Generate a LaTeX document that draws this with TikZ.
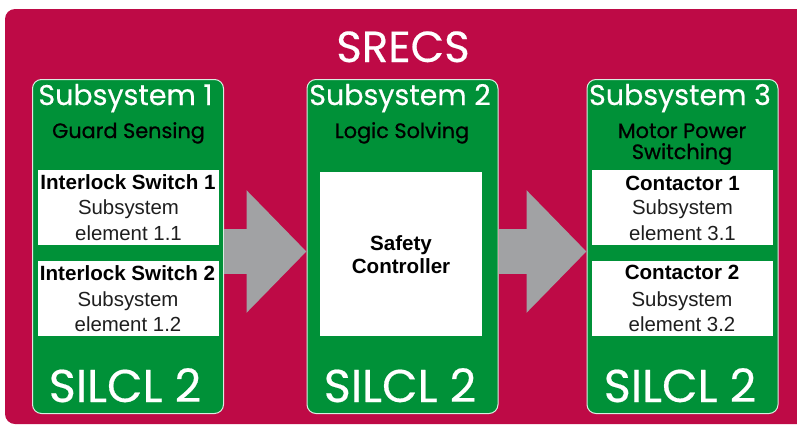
\documentclass[tikz,border=0pt]{standalone}
\usepackage{fontspec}
\setmainfont{Liberation Sans}
\newfontfamily\gotham[FakeBold=0.4]{Poppins}
\newfontfamily\gothamdark[FakeBold=0.8]{Poppins}
\usetikzlibrary{arrows.meta}
\definecolor{srecsred}{HTML}{BE0A46}
\definecolor{subgreen}{HTML}{009138}
\definecolor{arrowgray}{HTML}{A1A2A4}
\definecolor{elemtext}{HTML}{1E1E1E}
\begin{document}
\begin{tikzpicture}[x=1pt,y=-1pt,
  frame/.style={fill=srecsred, rounded corners=10pt},
  panel/.style={draw=white!85!subgreen, line width=1pt, fill=subgreen, rounded corners=9pt,
    minimum width=191pt, minimum height=334pt, anchor=north west, inner sep=0pt},
  elem/.style={fill=white, anchor=north west, inner sep=0pt, minimum width=181pt, minimum height=75pt},
  bigtitle/.style={anchor=base, inner sep=0pt, text=white, font=\gotham\fontsize{43.5}{46}\selectfont},
  subtitle/.style={anchor=base, inner sep=0pt, text=white, font=\gotham\fontsize{28.5}{30}\selectfont},
  func/.style={anchor=base, inner sep=0pt, text=black, font=\gothamdark\fontsize{20.8}{22}\selectfont},
  silcl/.style={anchor=base, inner sep=0pt, text=white, font=\gotham\fontsize{46}{48}\selectfont},
  ename/.style={anchor=base, inner sep=0pt, text=black, font=\bfseries\fontsize{20.6}{22}\selectfont},
  edesc/.style={anchor=base, inner sep=0pt, text=elemtext, font=\fontsize{20.4}{22}\selectfont},
  bigarrow/.style={draw=arrowgray, line width=45pt,
    -{Triangle[length=60pt,width=119pt,fill=arrowgray]}}
]
\useasboundingbox (0,0) rectangle (797,426);
\fill[frame] (5,9) rectangle (812,424);
\node[bigtitle] (srecs) at (403,62) {SRECS};

% panels
\node[panel] (sub1) at (32,79) {};
\node[panel] (sub2) at (306.5,79) {};
\node[panel] (sub3) at (586.5,79) {};

% arrows
\draw[bigarrow] ([yshift=-5pt]sub1.east) -- ([yshift=-5pt]sub2.west);
\draw[bigarrow] ([yshift=-5pt]sub2.east) -- ([yshift=-5pt]sub3.west);

% titles
\node[subtitle] (st1) at (125.5,105) {Subsystem 1};
\node[subtitle] (st2) at (400,105) {Subsystem 2};
\node[subtitle] (st3) at (680,105) {Subsystem 3};
\node[func] (f1) at (128.5,138) {Guard Sensing};
\node[func] (f2) at (402,138) {Logic Solving};
\node[func] (f3a) at (682,138) {Motor Power};
\node[func] (f3b) at (682,159) {Switching};

% element boxes
\node[elem] (e11) at (38,170) {};
\node[elem] (e12) at (37.5,261) {};
\node[elem, minimum width=162pt, minimum height=164pt] (ctl) at (320,172) {};
\node[elem] (e31) at (592,170) {};
\node[elem] (e32) at (591.5,261) {};

% element texts
\node[ename] (n11) at (128,189) {Interlock Switch 1};
\node[edesc] (d11a) at (128.5,214) {Subsystem};
\node[edesc] (d11b) at (128.5,240) {element 1.1};
\node[ename] (n12) at (127.5,280) {Interlock Switch 2};
\node[edesc] (d12a) at (128,306) {Subsystem};
\node[edesc] (d12b) at (128,331) {element 1.2};

\node[ename] (nc1) at (401,250) {Safety};
\node[ename] (nc2) at (401,273) {Controller};

\node[ename] (n31) at (682.5,190) {Contactor 1};
\node[edesc] (d31a) at (682.5,214) {Subsystem};
\node[edesc] (d31b) at (682.5,240) {element 3.1};
\node[ename] (n32) at (682,279) {Contactor 2};
\node[edesc] (d32a) at (682,306) {Subsystem};
\node[edesc] (d32b) at (682,331) {element 3.2};

% SILCL
\node[silcl] (s1) at (125,402) {SILCL 2};
\node[silcl] (s2) at (400,402) {SILCL 2};
\node[silcl] (s3) at (680,402) {SILCL 2};
\end{tikzpicture}
\end{document}
